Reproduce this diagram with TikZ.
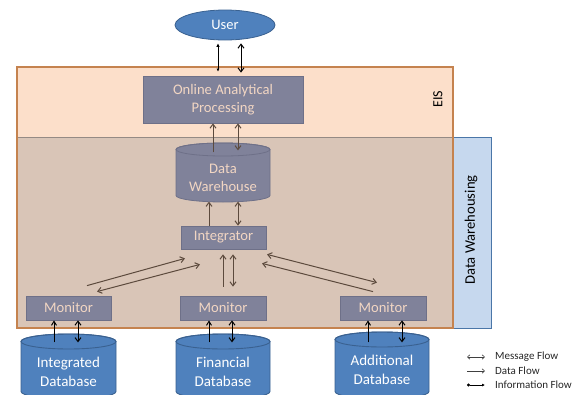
\documentclass[tikz,border=0pt]{standalone}
\usepackage{fontspec}
\setmainfont{Carlito}
\usetikzlibrary{arrows.meta,calc,shapes.geometric}
\definecolor{peach}{HTML}{FCDFCA}
\definecolor{eisline}{HTML}{C5834F}
\definecolor{tanfill}{HTML}{D9C5B7}
\definecolor{tanline}{HTML}{958A84}
\definecolor{lblue}{HTML}{C6D8EE}
\definecolor{bline}{HTML}{4A76A8}
\definecolor{gboxfill}{HTML}{80829A}
\definecolor{gline}{HTML}{6E7088}
\definecolor{gtext}{HTML}{F2D6C3}
\definecolor{dbfill}{HTML}{4F81BD}
\definecolor{dbline}{HTML}{3A6190}
\definecolor{brn}{HTML}{5C4A3D}
\newcommand{\drawcyl}[6]{%
  \path[#6] (#1-#4,#2+#5) -- (#1-#4,#3-#5) arc[start angle=180,end angle=0,x radius=#4,y radius=#5]
    -- (#1+#4,#2+#5) arc[start angle=0,end angle=-180,x radius=#4,y radius=#5] -- cycle;
  \path[#6,fill=none] (#1,#2+#5) ellipse[x radius=#4,y radius=#5];
}
\begin{document}
\begin{tikzpicture}[x=1pt,y=-1pt,
  gbox/.style={draw=gline, fill=gboxfill, line width=0.8pt, text=gtext, inner sep=0pt, align=center, font=\fontsize{14.6}{18}\selectfont},
  dbtext/.style={text=white, inner sep=0pt, align=center, font=\fontsize{15}{19}\selectfont},
  dwtext/.style={text=gtext, inner sep=0pt, align=center, font=\fontsize{14.6}{18}\selectfont},
  dflow/.style={brn, line width=1pt, -{Straight Barb[length=4pt,width=6pt]}},
  mflow/.style={brn, line width=1pt, {Straight Barb[length=4pt,width=6pt]}-{Straight Barb[length=4pt,width=6pt]}},
  kflow/.style={black, line width=1pt, -{Straight Barb[length=4pt,width=5pt]}},
  kmflow/.style={black, line width=1pt, {Straight Barb[length=4pt,width=6pt]}-{Straight Barb[length=4pt,width=6pt]}},
  kiflow/.style={black, line width=0.9pt, {Latex[length=3pt,width=3pt]}-{Latex[length=3.5pt,width=3.5pt]}},
  legline/.style={black!75, line width=0.6pt},
  legtext/.style={anchor=west, inner sep=0pt, font=\fontsize{11}{13}\selectfont, text=black!85}
]
\useasboundingbox (0,0) rectangle (581,394);
% regions
\fill[peach] (17,67) rectangle (453,328);
\path[fill=tanfill, draw=tanline, line width=0.8pt] (17,137) rectangle (453,328);
\path[fill=lblue, draw=bline, line width=0.9pt] (453,137) rectangle (491,328);
\draw[eisline, line width=1.1pt] (17,67) rectangle (453,328);
\node[rotate=90, font=\fontsize{14}{16}\selectfont, inner sep=0pt] (eis) at (438,99) {EIS};
\node[rotate=90, font=\fontsize{14.6}{16}\selectfont, inner sep=0pt] (dwh) at (471,230) {Data Warehousing};
% user
\node[ellipse, draw=dbline, fill=dbfill, line width=0.8pt, minimum width=100, minimum height=30, inner sep=0pt, text=white, font=\fontsize{14.5}{16}\selectfont] (user) at (225,25) {User};
% OLAP
\node[gbox, minimum width=160, minimum height=47] (olap) at (223,99.5) {Online Analytical\\Processing};
% data warehouse
\drawcyl{223}{143}{202}{47}{6.5}{fill=gboxfill, draw=gline, line width=0.8pt}
\node[dwtext] (dw) at (223,178) {Data\\Warehouse};
% integrator
\node[gbox, minimum width=85, minimum height=23] (integ) at (223.5,237.5) {Integrator};
% monitors
\node[gbox, minimum width=85, minimum height=24] (mon1) at (68.5,308) {Monitor};
\node[gbox, minimum width=86, minimum height=24] (mon2) at (223,308) {Monitor};
\node[gbox, minimum width=86, minimum height=24] (mon3) at (383,308) {Monitor};
% databases
\drawcyl{68.5}{334}{399}{47.5}{7.5}{fill=dbfill, draw=dbline, line width=0.9pt}
\node[dbtext] (db1) at (68.5,372) {Integrated\\Database};
\drawcyl{223}{334}{399}{47}{7.5}{fill=dbfill, draw=dbline, line width=0.9pt}
\node[dbtext] (db2) at (223,372) {Financial\\Database};
\drawcyl{382}{332}{399}{47}{7.5}{fill=dbfill, draw=dbline, line width=0.9pt}
\node[dbtext] (db3) at (382,370) {Additional\\Database};
% user <-> olap
\draw[kiflow] ($(olap.north)+(-5,-4)$) -- ($(user.south)+(-7,3)$);
\draw[kmflow] ($(olap.north)+(18,-3)$) -- ($(user.south)+(16,3)$);
% olap <-> dw
\draw[dflow] ($(olap.south)+(-10,29)$) -- ($(olap.south)+(-10,0)$);
\draw[mflow] ($(olap.south)+(15,27)$) -- ($(olap.south)+(15,0)$);
% dw <-> integrator
\draw[dflow] ($(integ.north)+(-14.5,0)$) -- ($(integ.north)+(-14.5,-24)$);
\draw[mflow] ($(integ.north)+(14.5,0)$) -- ($(integ.north)+(14.5,-24)$);
% integrator <-> middle monitor
\draw[dflow] ($(mon2.north)+(0,-9)$) -- ($(integ.south)+(-0.5,5)$);
\draw[mflow] ($(mon2.north)+(10,-9)$) -- ($(integ.south)+(9.5,5)$);
% integrator <-> left monitor
\draw[dflow] ($(mon1.north)+(18.5,-10)$) -- ($(integ.south)+(-38.5,9)$);
\draw[mflow] ($(mon1.north)+(28.5,-4)$) -- ($(integ.south)+(-23.5,15)$);
% integrator <-> right monitor
\draw[mflow] ($(integ.south)+(43.5,5)$) -- ($(mon3.north)+(-6,-13)$);
\draw[dflow] ($(mon3.north)+(-10,-4)$) -- ($(integ.south)+(38.5,14)$);
% monitors <-> databases
\draw[kflow] ($(mon1.south)+(-14.5,22)$) -- ($(mon1.south)+(-14.5,0)$);
\draw[kmflow] ($(mon1.south)+(9.5,22)$) -- ($(mon1.south)+(9.5,0)$);
\draw[kflow] ($(mon2.south)+(-14,22)$) -- ($(mon2.south)+(-14,0)$);
\draw[kmflow] ($(mon2.south)+(9,22)$) -- ($(mon2.south)+(9,0)$);
\draw[kflow] ($(mon3.south)+(-15,22)$) -- ($(mon3.south)+(-15,0)$);
\draw[kmflow] ($(mon3.south)+(19,22)$) -- ($(mon3.south)+(19,0)$);
% legend
\coordinate (l1a) at (467,357); \coordinate (l1b) at (485,357);
\coordinate (l2a) at (467,371); \coordinate (l2b) at (485,371);
\coordinate (l3a) at (467,385); \coordinate (l3b) at (485,385);
\draw[legline, {Straight Barb[length=2.5pt,width=4.5pt]}-{Straight Barb[length=2.5pt,width=4.5pt]}] (l1a) -- (l1b);
\draw[legline, -{Straight Barb[length=2.5pt,width=4.5pt]}] (l2a) -- (l2b);
\draw[black, line width=0.8pt, {Circle[length=3pt]}-{Latex[length=3pt,width=3pt]}] (l3a) -- (l3b);
\node[legtext] (t1) at (495,357) {Message Flow};
\node[legtext] (t2) at (495,371) {Data Flow};
\node[legtext] (t3) at (495,385) {Information Flow};
\end{tikzpicture}
\end{document}
